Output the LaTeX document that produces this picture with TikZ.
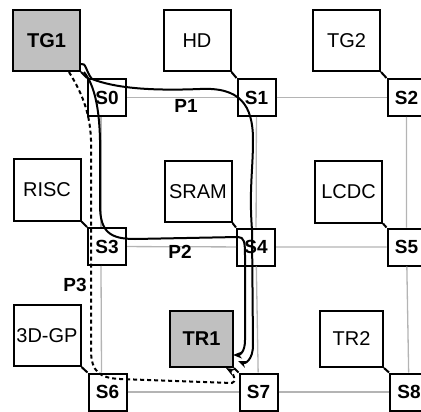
\documentclass[tikz,border=0pt]{standalone}
\usepackage{fontspec}
\setmainfont{Liberation Sans}
\usetikzlibrary{arrows.meta}
\definecolor{coregray}{HTML}{C0C0C0}
\definecolor{meshgray}{HTML}{B4B4B4}

\begin{document}
\begin{tikzpicture}[x=1pt, y=-1pt,
  core/.style={draw, line width=2pt, fill=white, minimum width=67pt, minimum height=61pt, inner sep=0pt, font=\fontsize{20}{24}\selectfont},
  switch/.style={draw, line width=2pt, fill=white, minimum width=38pt, minimum height=37pt, inner sep=0pt, font=\fontsize{19}{22}\selectfont\bfseries},
  mesh/.style={meshgray, line width=1.3pt},
  route/.style={line width=2pt, -{Stealth[length=9pt, width=7pt]}},
  plabel/.style={font=\fontsize{19}{22}\selectfont\bfseries}]
\useasboundingbox (0,0) rectangle (421,412);
\foreach \n/\x/\y in {0/107/97.5, 1/256.5/97.5, 2/406.5/97.5, 3/107/246.5, 4/256/247, 5/406.5/247, 6/107.5/392, 7/258.5/392, 8/409/392}
  \node[switch] (s\n) at (\x,\y) {S\n};
\draw[mesh] (s0) -- (s1) -- (s2);
\draw[mesh] (s3) -- (s4) -- (s5);
\draw[mesh] (s6) -- (s7) -- (s8);
\draw[mesh] ([xshift=-6pt]s0.south) -- ([xshift=-6pt]s3.north);
\draw[mesh] ([xshift=-6pt]s3.south) -- ([xshift=-6pt]s6.north);
\draw[mesh] (s1) -- (s4) -- (s7);
\draw[mesh] (s2) -- (s5) -- (s8);
\node[core, fill=coregray] (tg1) at (46.5,40.5) {\bfseries TG1};
\node[core] (hd) at (197,40.5) {HD};
\node[core] (tg2) at (346.5,40.5) {TG2};
\node[core] (risc) at (47,190) {RISC};
\node[core] (sram) at (198,191.5) {SRAM};
\node[core] (lcdc) at (348.5,192) {LCDC};
\node[core] (gp) at (47,335.5) {3D-GP};
\node[core, fill=coregray, minimum width=63pt, minimum height=56pt] (tr1) at (201.5,339) {\bfseries TR1};
\node[core, minimum width=63pt, minimum height=56pt] (tr2) at (351.5,339) {TR2};
\foreach \c/\s in {tg1/s0, hd/s1, tg2/s2, risc/s3, sram/s4, lcdc/s5, gp/s6, tr1/s7, tr2/s8}
  \draw[line width=2pt] (\c.south east) -- (\s.north west);
\draw[route] ([yshift=8pt]tg1.south east) .. controls (86,62) and (86,72) .. (92,79)
  .. controls (115,88) and (150,91) .. (200,89) .. controls (240,87) and (253,105) .. (253,140)
  .. controls (253,170) and (249,190) .. (252,230) -- (253,345) .. controls (253,360) and (245,364) .. (238,361);
\draw[route] ([xshift=3pt]tg1.south east) .. controls (90,80) and (99,95) .. (100,140) -- (100,205)
  .. controls (100,232) and (110,239) .. (135,239) -- (238,237) .. controls (244,237) and (245,242) .. (245,255)
  -- (245,340) .. controls (245,352) and (240,355) .. (233,355);
\draw[route, dash pattern=on 4pt off 3pt] ([xshift=-12pt]tg1.south east) .. controls (80,90) and (90,110) .. (91,140)
  -- (91,350) .. controls (91,372) and (100,378) .. (120,379) -- (232,383) .. controls (237,383) and (233,372) .. (226,368);
\node[plabel] (p1) at (186,106) {P1};
\node[plabel] (p2) at (180,252) {P2};
\node[plabel] (p3) at (75,285) {P3};
\end{tikzpicture}
\end{document}
